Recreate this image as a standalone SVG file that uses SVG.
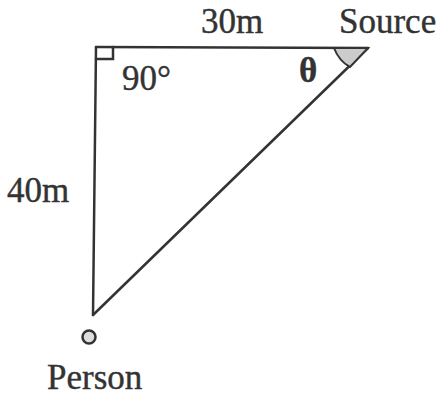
<svg xmlns="http://www.w3.org/2000/svg" width="439" height="396" viewBox="0 0 439 396">
<style>
text{font-family:"Liberation Serif","Times New Roman",serif;font-size:35px;fill:#333;stroke:#333;stroke-width:0.4}
.ln{stroke:#333;stroke-width:2.5;fill:none;stroke-linecap:round}
</style>
<rect width="439" height="396" fill="#fff"/>
<g id="connectors">
<line class="ln" x1="96" y1="47" x2="368" y2="48"/>
<line class="ln" x1="96" y1="47" x2="93" y2="315"/>
<line class="ln" x1="368" y1="48" x2="93" y2="315"/>
</g>
<g id="right-angle">
<path class="ln" d="M96,59 H113 V47" stroke-width="2"/>
<text x="122" y="90">90°</text>
</g>
<g id="source">
<path d="M334,48 L368,48 L350,67 Q339,61 334,48 Z" fill="#ccc" stroke="#333" stroke-width="2"/>
<text x="339" y="33">Source</text>
<text x="299" y="82" font-weight="bold" font-size="31">θ</text>
</g>
<g id="person">
<circle cx="89" cy="337" r="6.5" fill="#ddd" stroke="#333" stroke-width="2.5"/>
<text x="47" y="389">Person</text>
</g>
<g id="labels">
<text x="201" y="33">30m</text>
<text x="7" y="202">40m</text>
</g>
</svg>
